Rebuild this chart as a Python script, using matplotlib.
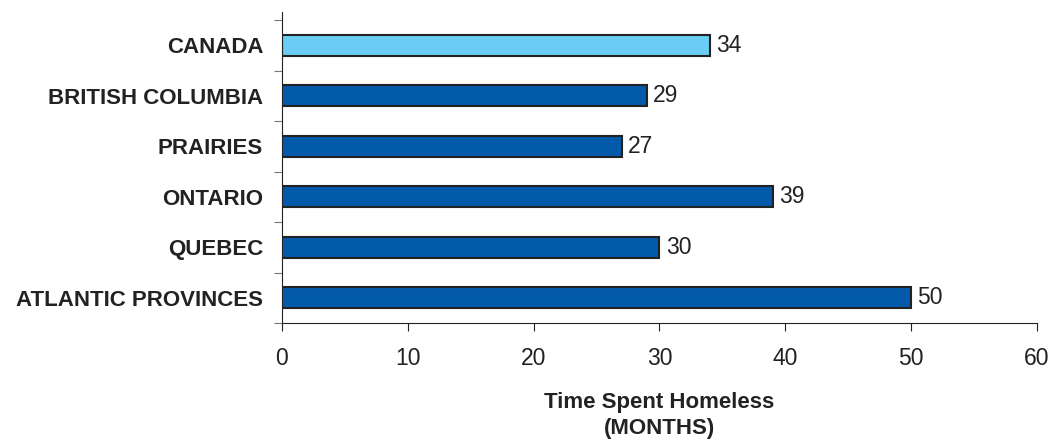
import matplotlib.pyplot as plt

plt.rcParams['font.family'] = ['Liberation Sans', 'DejaVu Sans']

regions = ["CANADA", "BRITISH COLUMBIA", "PRAIRIES", "ONTARIO", "QUEBEC", "ATLANTIC PROVINCES"]
months = [34, 29, 27, 39, 30, 50]
bar_colors = ["#6ACEF4", "#035AAA", "#035AAA", "#035AAA", "#035AAA", "#035AAA"]
x_ticks = [0, 10, 20, 30, 40, 50, 60]

fig = plt.figure(figsize=(10.52, 4.45), dpi=100)
ax = fig.add_axes([0.268, 0.274, 0.7177, 0.699])

# top category first
pos = list(range(len(regions)))[::-1]
ax.barh(pos, months, height=0.42, color=bar_colors, edgecolor="#222222", linewidth=1.5)

for p, v in zip(pos, months):
    ax.text(v + 0.5, p, str(v), va="center", ha="left", fontsize=16.5, color="#222222")

ax.set_xlim(0, 60)
ax.set_ylim(-0.5, 5.66)
ax.set_xticks(x_ticks)
ax.set_xticklabels([str(t) for t in x_ticks], fontsize=16.5, color="#222222")

# category labels sit between the boundary ticks
ax.set_yticks([p - 0.5 for p in range(7)])
ax.set_yticklabels([])
ax.set_yticks(pos, minor=True)
ax.set_yticklabels(regions, minor=True, fontsize=16, fontweight="bold", color="#222222")
ax.tick_params(axis="y", which="minor", length=0, pad=13.5)
ax.tick_params(axis="y", which="major", length=6, color="#777777")
ax.tick_params(axis="x", length=6, color="#222222", pad=11)

for side in ["top", "right"]:
    ax.spines[side].set_visible(False)
ax.spines["left"].set_color("#222222")
ax.spines["bottom"].set_color("#222222")

ax.set_xlabel("Time Spent Homeless\n(MONTHS)", fontsize=16, fontweight="bold",
              color="#222222", labelpad=16, linespacing=1.3)

fig.savefig("out.png", dpi=100)
